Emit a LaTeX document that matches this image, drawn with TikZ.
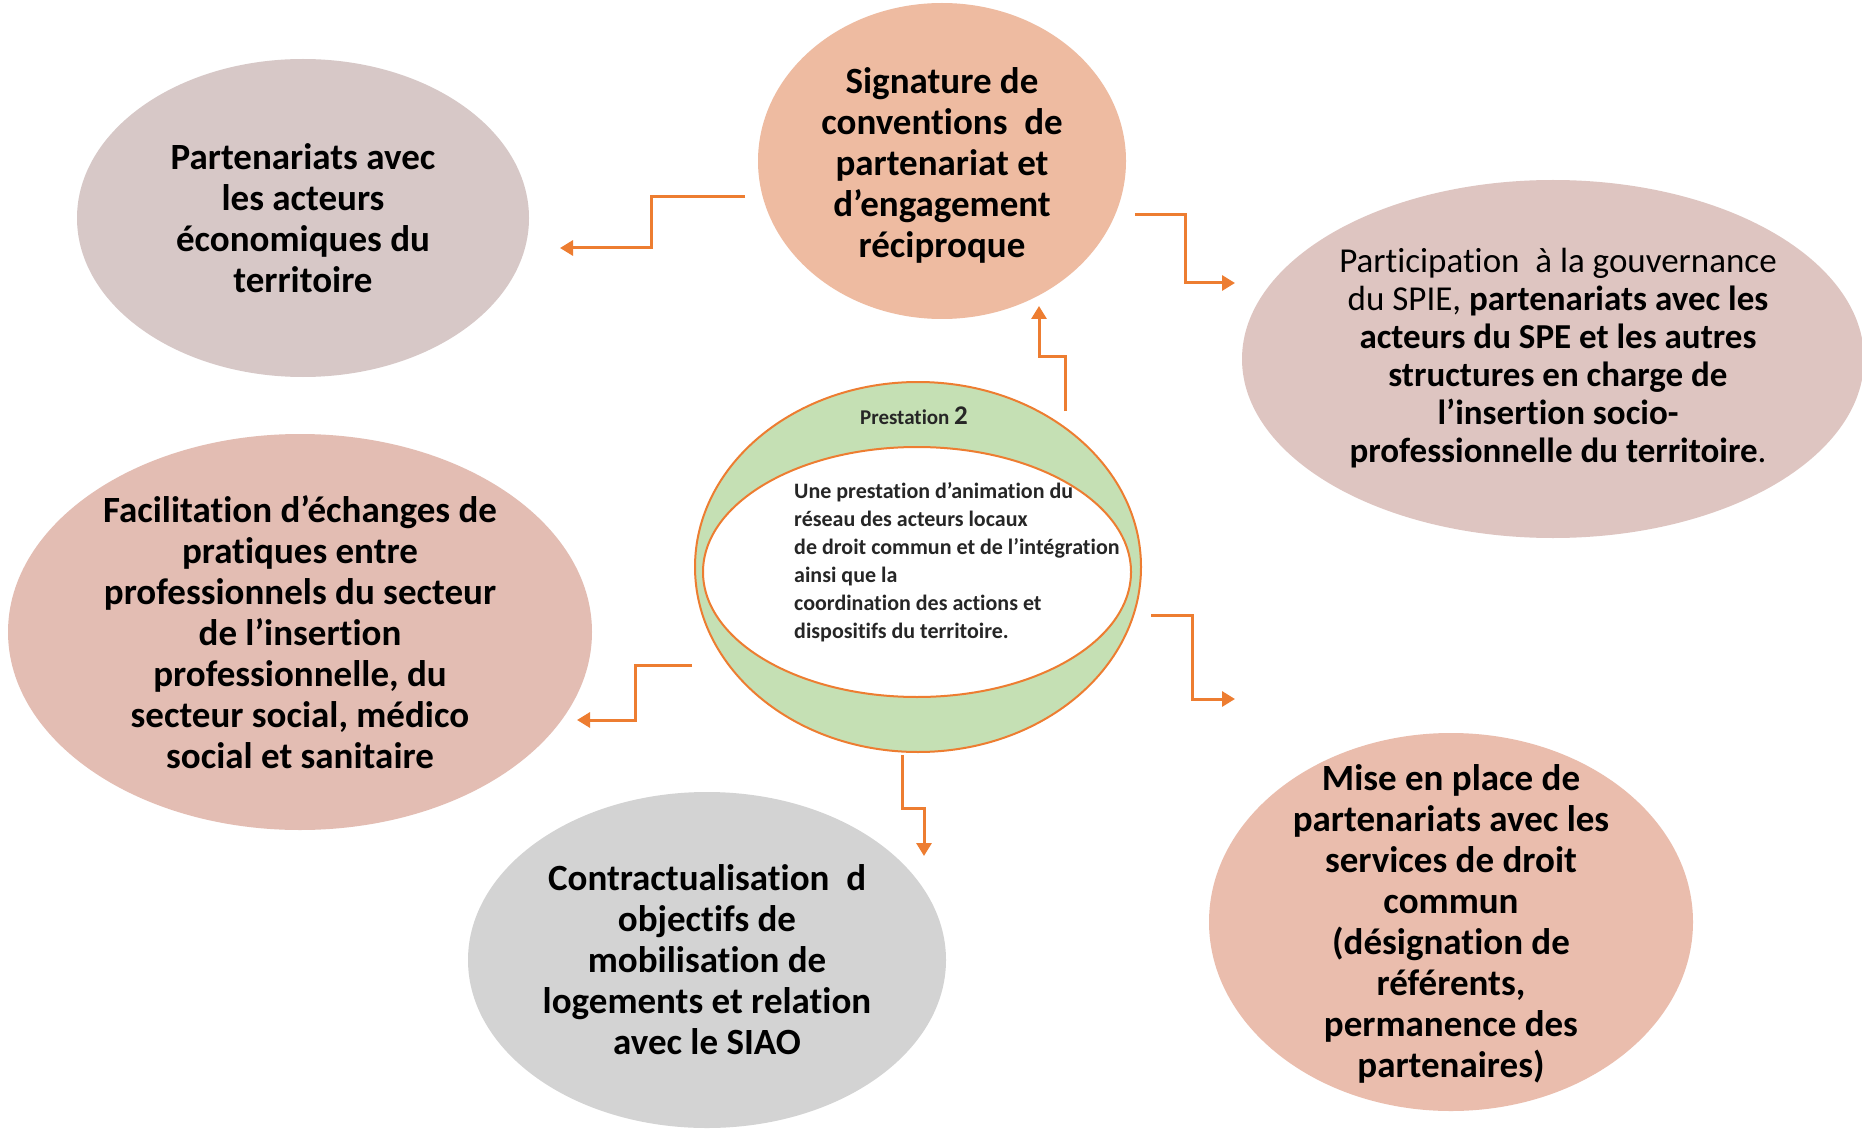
\documentclass[tikz,border=0pt]{standalone}
\usepackage{fontspec}
\setmainfont{Carlito}[Ligatures={CommonOff,ContextualOff,RequiredOff}]
\usetikzlibrary{shapes.geometric,arrows.meta}
\definecolor{cTL}{HTML}{D7C8C7}
\definecolor{cSig}{HTML}{EEBBA1}
\definecolor{cPart}{HTML}{DEC5C1}
\definecolor{cFac}{HTML}{E3BDB3}
\definecolor{cCon}{HTML}{D3D3D3}
\definecolor{cMise}{HTML}{EABDAD}
\definecolor{cGreen}{HTML}{C5E0B4}
\definecolor{cOrange}{HTML}{ED7D31}
\definecolor{cDark}{HTML}{262626}
\begin{document}
\begin{tikzpicture}[x=1pt,y=-1pt,
  blob/.style={ellipse, inner sep=0pt, draw=none},
  bigtxt/.style={align=center, inner sep=0pt, text=black, font=\bfseries\fontsize{37}{41}\selectfont},
  conn/.style={draw=cOrange, line width=3pt, -{Triangle[length=13pt,width=15pt]}},
]
\useasboundingbox (0,0) rectangle (1862,1131);
\fill[white] (0,0) rectangle (1862,1131);

% outer ellipses
\node[blob, fill=cTL, minimum width=452pt, minimum height=318pt] (tl) at (303,218) {};
\node[blob, fill=cSig, minimum width=368pt, minimum height=316pt] (sig) at (942,161) {};
\node[blob, fill=cPart, minimum width=622pt, minimum height=358pt] (part) at (1553,359) {};
\node[blob, fill=cFac, minimum width=584pt, minimum height=396pt] (fac) at (300,632) {};
\node[blob, fill=cCon, minimum width=478pt, minimum height=336pt] (con) at (707,960) {};
\node[blob, fill=cMise, minimum width=484pt, minimum height=378pt] (mise) at (1451,922) {};

% texts
\node[bigtxt] (tlt) at (tl.center) {Partenariats avec\\les acteurs\\économiques du\\territoire};
\node[bigtxt] (sigt) at (942,165) {Signature de\\conventions\ \ de\\partenariat et\\d’engagement\\réciproque};
\node[align=center, inner sep=0pt, text=black, font=\fontsize{35}{38}\selectfont] (partt) at (1558,358)
  {Participation\ \ à la gouvernance\\du SPIE, \textbf{partenariats avec les}\\\textbf{acteurs du SPE et les autres}\\\textbf{structures en charge de}\\\textbf{l’insertion socio-}\\\textbf{professionnelle du territoire}.};
\node[bigtxt] (fact) at (fac.center) {Facilitation d’échanges de\\pratiques entre\\professionnels du secteur\\de l’insertion\\professionnelle, du\\secteur social, médico\\social et sanitaire};
\node[bigtxt] (cont) at (con.center) {Contractualisation\ \ d\\objectifs de\\mobilisation de\\logements et relation\\avec le SIAO};
\node[bigtxt] (miset) at (1451,924) {Mise en place de\\partenariats avec les\\services de droit\\commun\\(désignation de\\référents,\\permanence des\\partenaires)};

% central ring
\node[ellipse, inner sep=0pt, fill=cGreen, draw=cOrange, line width=2pt, minimum width=446pt, minimum height=370pt] (outer) at (918,567) {};
\node[ellipse, inner sep=0pt, fill=white, draw=cOrange, line width=2pt, minimum width=428pt, minimum height=250pt] (inner) at (917,572) {};
\node[inner sep=0pt, text=cDark, font=\bfseries\fontsize{21}{25}\selectfont] (prest) at (914,416) {Prestation {\fontsize{27}{27}\selectfont 2}};
\node[anchor=west, align=left, inner sep=0pt, text=cDark, font=\bfseries\fontsize{22}{28}\selectfont] (innert) at (794,562)
  {Une prestation d’animation du\\réseau des acteurs locaux\\de droit commun et de l’intégration\\ainsi que la\\coordination des actions et\\dispositifs du territoire.};

% connector coordinates
\coordinate (a1s) at (745,197); \coordinate (a1e) at (560,248);
\coordinate (a2s) at (1135,215); \coordinate (a2e) at (1235,283);
\coordinate (a3s) at (1065,411); \coordinate (a3e) at (1039,306);
\coordinate (a4s) at (692,665); \coordinate (a4e) at (577,720);
\coordinate (a5s) at (1151,615); \coordinate (a5e) at (1235,699);
\coordinate (a6s) at (902,755); \coordinate (a6e) at (924,856);

\draw[conn] (a1s) -- (651,197) -- (651,248) -- (a1e);
\draw[conn] (a2s) -- (1185,215) -- (1185,283) -- (a2e);
\draw[conn] (a3s) -- (1065,356) -- (1039,356) -- (a3e);
\draw[conn] (a4s) -- (635,665) -- (635,720) -- (a4e);
\draw[conn] (a5s) -- (1192,615) -- (1192,699) -- (a5e);
\draw[conn] (a6s) -- (902,808) -- (924,808) -- (a6e);
\end{tikzpicture}
\end{document}
